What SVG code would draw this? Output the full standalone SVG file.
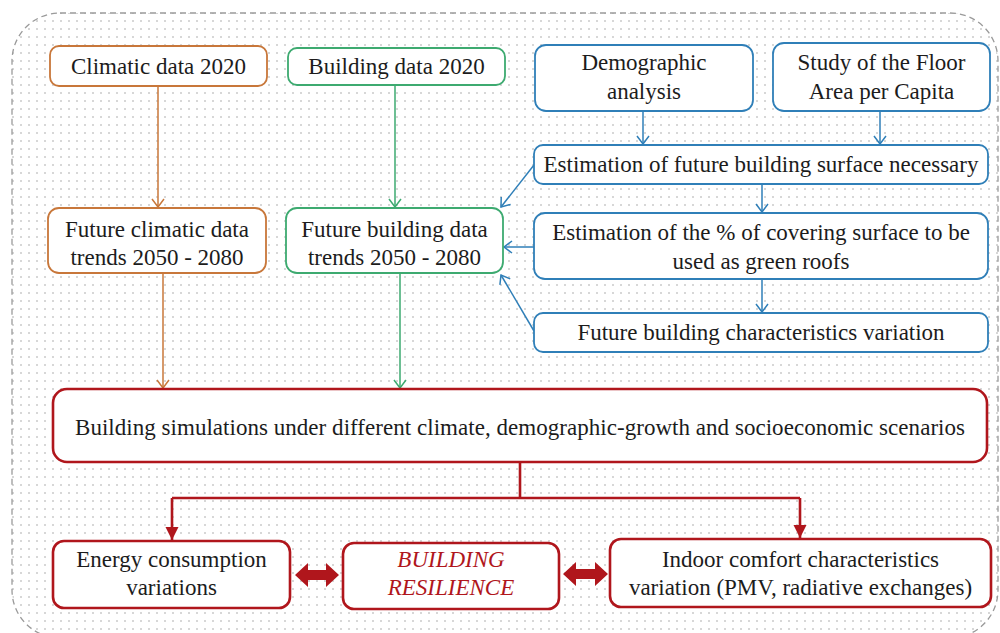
<svg xmlns="http://www.w3.org/2000/svg" width="1000" height="633" viewBox="0 0 1000 633">
  <defs>
    <pattern id="dots" x="3" y="3" width="8" height="8" patternUnits="userSpaceOnUse">
      <circle cx="2" cy="2" r="0.75" fill="#9a9a9a"/>
    </pattern>
    <marker id="arrOrange" markerUnits="userSpaceOnUse" markerWidth="16" markerHeight="16" viewBox="-10 -8 12 16" refX="0" refY="0" orient="auto">
      <path d="M-8,-6 L0,0 L-8,6" fill="none" stroke="#C8773A" stroke-width="1.5"/>
    </marker>
    <marker id="arrGreen" markerUnits="userSpaceOnUse" markerWidth="16" markerHeight="16" viewBox="-10 -8 12 16" refX="0" refY="0" orient="auto">
      <path d="M-8,-6 L0,0 L-8,6" fill="none" stroke="#3DAA70" stroke-width="1.5"/>
    </marker>
    <marker id="arrBlue" markerUnits="userSpaceOnUse" markerWidth="16" markerHeight="16" viewBox="-10 -8 12 16" refX="0" refY="0" orient="auto">
      <path d="M-8,-6 L0,0 L-8,6" fill="none" stroke="#2F7FB8" stroke-width="1.5"/>
    </marker>
    <marker id="arrRed" markerUnits="userSpaceOnUse" markerWidth="16" markerHeight="16" viewBox="-14 -8 16 16" refX="0" refY="0" orient="auto">
      <path d="M-13,-6.5 L0,0 L-13,6.5 Z" fill="#B0161C"/>
    </marker>
    <style>
      .txt { font-family: "Liberation Serif", "Times New Roman", serif; font-size: 23px; fill: #1c1c1c; text-anchor: middle; }
      .red-txt { font-family: "Liberation Serif", "Times New Roman", serif; font-size: 23px; fill: #B0161C; font-style: italic; text-anchor: middle; }
      .box-o { fill: #fff; stroke: #C8773A; stroke-width: 1.8; }
      .box-g { fill: #fff; stroke: #3DAA70; stroke-width: 1.8; }
      .box-b { fill: #fff; stroke: #2F7FB8; stroke-width: 1.8; }
      .box-r { fill: #fff; stroke: #B0161C; stroke-width: 2.6; }
      .ln-o { stroke: #C8773A; stroke-width: 1.5; fill: none; marker-end: url(#arrOrange); }
      .ln-g { stroke: #3DAA70; stroke-width: 1.5; fill: none; marker-end: url(#arrGreen); }
      .ln-b { stroke: #2F7FB8; stroke-width: 1.5; fill: none; marker-end: url(#arrBlue); }
      .ln-r { stroke: #B0161C; stroke-width: 2.6; fill: none; }
      .blk { fill: #B0161C; }
    </style>
  </defs>

  <!-- dotted panel with dashed rounded border -->
  <rect width="1000" height="633" fill="#fff"/>
  <rect x="12" y="13" width="986" height="625" rx="48" fill="url(#dots)" stroke="#9a9a9a" stroke-width="1.3" stroke-dasharray="6 4"/>

  <!-- connectors -->
  <g id="connectors">
    <path class="ln-o" d="M158,86 V207"/>
    <path class="ln-o" d="M163,273 V388"/>
    <path class="ln-g" d="M395,85 V207"/>
    <path class="ln-g" d="M400,273 V388"/>
    <path class="ln-b" d="M643,111 V144"/>
    <path class="ln-b" d="M880,111 V144"/>
    <path class="ln-b" d="M534,165 L501,207"/>
    <path class="ln-b" d="M762,184 V212"/>
    <path class="ln-b" d="M534,247 H504"/>
    <path class="ln-b" d="M762,279 V312"/>
    <path class="ln-b" d="M534,331 L501,275"/>
    <path class="ln-r" d="M520,462 V498"/>
    <path class="ln-r" d="M172,498 H800"/>
    <path class="ln-r" d="M172,498 V540" marker-end="url(#arrRed)"/>
    <path class="ln-r" d="M800,498 V538" marker-end="url(#arrRed)"/>
    <polygon class="blk" points="295,575 308,563 308,570 326,570 326,563 339,575 326,587 326,580 308,580 308,587"/>
    <polygon class="blk" points="563,574 576,562 576,569 595,569 595,562 608,574 595,586 595,579 576,579 576,586"/>
  </g>

  <g id="climatic-2020">
    <rect class="box-o" x="50" y="46" width="217" height="40" rx="9"/>
    <text class="txt" x="158.5" y="74">Climatic data 2020</text>
  </g>

  <g id="building-2020">
    <rect class="box-g" x="288" y="48" width="217" height="37" rx="9"/>
    <text class="txt" x="396.5" y="74">Building data 2020</text>
  </g>

  <g id="demographic">
    <rect class="box-b" x="535" y="45" width="218" height="66" rx="11"/>
    <text class="txt" x="644" y="70">Demographic</text>
    <text class="txt" x="644" y="99">analysis</text>
  </g>

  <g id="floor-area">
    <rect class="box-b" x="773" y="43" width="217" height="68" rx="11"/>
    <text class="txt" x="881.5" y="70">Study of the Floor</text>
    <text class="txt" x="881.5" y="99">Area per Capita</text>
  </g>

  <g id="surface-estimation">
    <rect class="box-b" x="534" y="145" width="454" height="39" rx="9"/>
    <text class="txt" x="761" y="172">Estimation of future building surface necessary</text>
  </g>

  <g id="green-roofs">
    <rect class="box-b" x="534" y="213" width="454" height="66" rx="11"/>
    <text class="txt" x="761" y="240">Estimation of the % of covering surface to be</text>
    <text class="txt" x="761" y="269">used as green roofs</text>
  </g>

  <g id="characteristics">
    <rect class="box-b" x="534" y="313" width="454" height="39" rx="9"/>
    <text class="txt" x="761" y="340">Future building characteristics variation</text>
  </g>

  <g id="future-climatic">
    <rect class="box-o" x="48" y="208" width="218" height="65" rx="11"/>
    <text class="txt" x="157" y="237">Future climatic data</text>
    <text class="txt" x="157" y="265">trends 2050 - 2080</text>
  </g>

  <g id="future-building">
    <rect class="box-g" x="286" y="208" width="217" height="65" rx="11"/>
    <text class="txt" x="394.5" y="237">Future building data</text>
    <text class="txt" x="394.5" y="265">trends 2050 - 2080</text>
  </g>

  <g id="simulations">
    <rect class="box-r" x="53" y="389" width="934" height="73" rx="14"/>
    <text class="txt" x="520" y="435" textLength="890" lengthAdjust="spacing">Building simulations under different climate, demographic-growth and socioeconomic scenarios</text>
  </g>

  <g id="energy">
    <rect class="box-r" x="53" y="541" width="237" height="67" rx="11"/>
    <text class="txt" x="171.5" y="567">Energy consumption</text>
    <text class="txt" x="171.5" y="595">variations</text>
  </g>

  <g id="resilience">
    <rect class="box-r" x="343" y="543" width="216" height="66" rx="11"/>
    <text class="red-txt" x="451" y="567">BUILDING</text>
    <text class="red-txt" x="451" y="595">RESILIENCE</text>
  </g>

  <g id="indoor-comfort">
    <rect class="box-r" x="610" y="539" width="381" height="68" rx="11"/>
    <text class="txt" x="800.5" y="567">Indoor comfort characteristics</text>
    <text class="txt" x="800.5" y="595">variation (PMV, radiative exchanges)</text>
  </g>
</svg>
